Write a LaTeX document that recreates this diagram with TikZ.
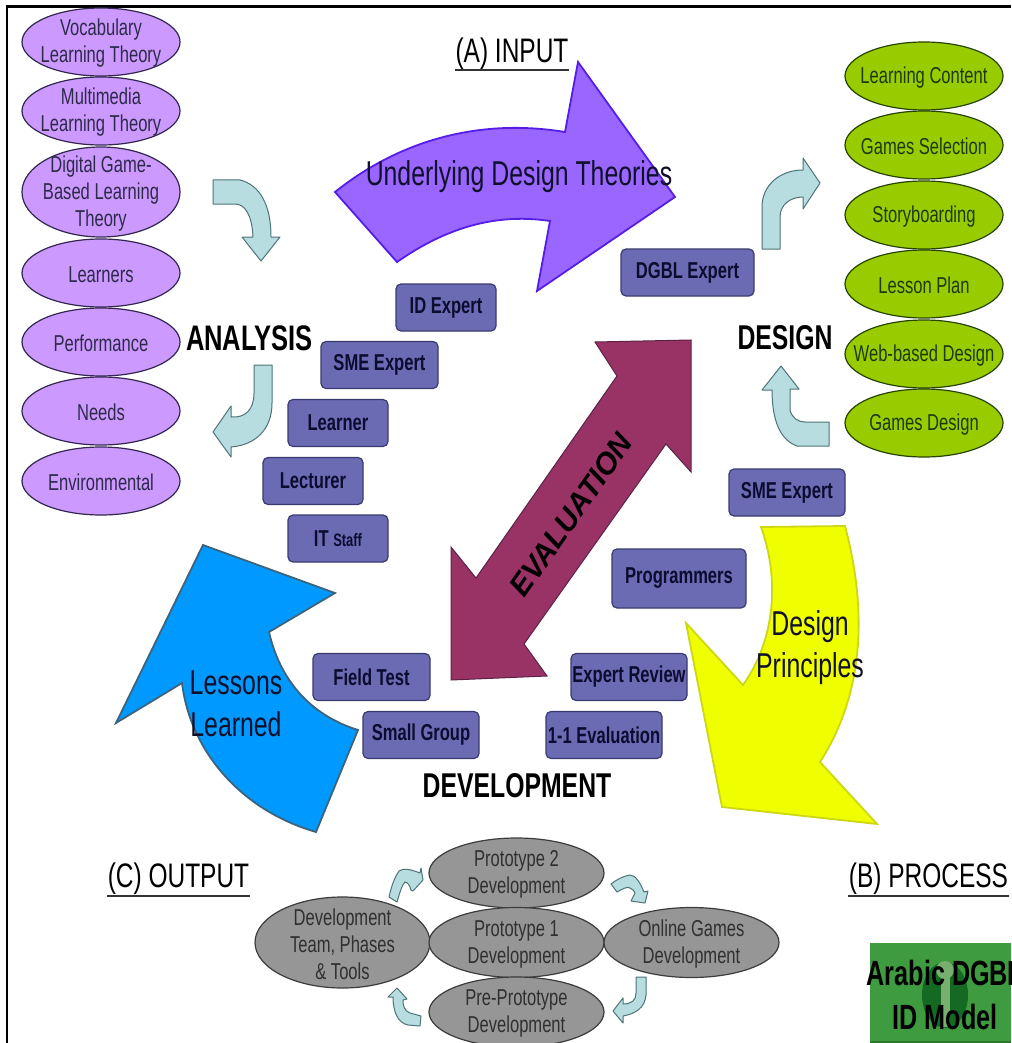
\documentclass[tikz,border=0pt]{standalone}
\usepackage{fontspec}
\setmainfont[FakeStretch=0.72]{Liberation Sans}
\newfontfamily\evalfont{Liberation Sans}
\usetikzlibrary{shapes.geometric}
\definecolor{pur}{HTML}{CC99FF}
\definecolor{purd}{HTML}{33264F}
\definecolor{purt}{HTML}{2E2A4A}
\definecolor{grn}{HTML}{99CC00}
\definecolor{grnd}{HTML}{264400}
\definecolor{grnt}{HTML}{1C3A10}
\definecolor{gry}{HTML}{969696}
\definecolor{gryd}{HTML}{3C3C3C}
\definecolor{gryt}{HTML}{303030}
\definecolor{bx}{HTML}{6B6BB3}
\definecolor{bxd}{HTML}{3A3A70}
\definecolor{bxt}{HTML}{0C0C30}
\definecolor{teal}{HTML}{B7DDE0}
\definecolor{teald}{HTML}{4F7478}
\definecolor{bigt}{HTML}{10102A}
\tikzset{
  ell/.style={ellipse,draw=#1,line width=1.2pt,inner sep=0pt,minimum width=158pt,minimum height=68pt},
  pe/.style={ell=purd,fill=pur},
  ge/.style={ell=grnd,fill=grn},
  ke/.style={ell=gryd,fill=gry,minimum width=175pt,minimum height=70pt},
  etext/.style={align=center,inner sep=0pt,yshift=-1.5pt,font=\fontsize{23}{27}\selectfont,text=#1},
  bbox/.style={rectangle,rounded corners=5pt,draw=bxd,line width=1.2pt,fill=bx,inner sep=0pt,
    minimum width=100pt,minimum height=47pt,text=bxt,font=\fontsize{23}{26}\selectfont\bfseries},
  tarrow/.style={draw=teald,line width=1pt,fill=teal,line join=round},
  head/.style={font=\fontsize{34.4}{36}\selectfont\bfseries,inner sep=0pt,text=black},
  ulabel/.style={font=\fontsize{34}{36}\selectfont,inner sep=0pt,text=black},
  big/.style={font=\fontsize{34.5}{42}\selectfont,align=center,inner sep=0pt,text=bigt},
  uline/.style={draw=black!80,line width=1.2pt}
}
\begin{document}
\begin{tikzpicture}[x=1pt,y=-1pt]
\useasboundingbox (0,0) rectangle (1011,1043);
\fill[white] (0,0) rectangle (1011,1043);
\draw[black,line width=2.4pt] (7,1043) -- (7,6.5) -- (1011,6.5);

% large arrows
\draw[draw={rgb,255:red,85;green,30;blue,230},line width=1.8pt,fill={rgb,255:red,153;green,102;blue,255}]
  (335,192) .. controls (400,140) and (480,118) .. (565,132) -- (578,62) -- (675,197) -- (537,291)
  -- (550,221) .. controls (490,212) and (440,232) .. (397,262) -- cycle;
\draw[draw={rgb,255:red,90;green,35;blue,70},line width=1pt,fill={rgb,255:red,153;green,51;blue,102}]
  (691,340) -- (595,342) -- (617,376) -- (476,578) -- (451,547) -- (451,680) -- (547,676)
  -- (524,644) -- (666,444) -- (691,472) -- cycle;
\draw[draw={rgb,255:red,60;green,100;blue,125},line width=1.8pt,fill={rgb,255:red,0;green,153;blue,255}]
  (203,545) -- (335,593) -- (269,632) .. controls (280,680) and (310,715) .. (358,730)
  -- (316,832) .. controls (240,810) and (190,750) .. (182,683) -- (116,723) -- cycle;
\draw[draw={rgb,255:red,205;green,215;blue,20},line width=1.8pt,fill={rgb,255:red,240;green,255;blue,0}]
  (761,527) -- (845,526) .. controls (870,620) and (860,700) .. (820,762) -- (877,824)
  -- (722,807) -- (686,623) -- (743,685) .. controls (775,640) and (780,580) .. (761,527) -- cycle;

% small teal arrows
\draw[tarrow] (213,180) -- (240,180) .. controls (260,185) and (271,205) .. (271,237) -- (280,237) -- (261,261) -- (242,237) -- (253,237)
  .. controls (252,215) and (245,204) .. (235,204) -- (213,204) -- cycle;
\draw[tarrow] (254,365) -- (272,365) -- (272,403) .. controls (272,430) and (255,445) .. (231,447) -- (231,457) -- (213,432) -- (231,406) -- (231,417)
  .. controls (245,418) and (254,410) .. (254,393) -- cycle;
\draw[tarrow] (762,249) -- (780,249) -- (780,217) .. controls (780,205) and (790,197) .. (803,197) -- (803,209) -- (820,183) -- (803,158) -- (803,170)
  .. controls (780,170) and (762,185) .. (762,207) -- cycle;
\draw[tarrow] (829,422) -- (829,446) -- (797,446) .. controls (780,440) and (772,420) .. (772,390) -- (762,390) -- (781,366) -- (799,389) -- (790,389)
  -- (790,410) .. controls (792,418) and (798,422) .. (805,422) -- cycle;
\draw[tarrow] (389,897) -- (397,902) .. controls (400,892) and (402,885) .. (405,882) .. controls (407,882) and (410,885) .. (411,890) -- (413,891) -- (423,880) -- (421,868) -- (420,873)
  .. controls (410,869) and (403,868) .. (399,871) .. controls (394,878) and (391,888) .. (389,897) -- cycle;
\draw[tarrow] (397,988) -- (388,997) -- (393,997) .. controls (393,1012) and (398,1023) .. (408,1025) -- (420,1026) -- (421,1016) -- (410,1013)
  .. controls (404,1011) and (403,1005) .. (403,1000) -- (407,999) -- cycle;
\draw[tarrow] (611,884) -- (617,892) .. controls (622,889) and (628,886) .. (630,888) .. controls (633,889) and (634,891) .. (635,893) -- (631,901) -- (645,903) -- (648,891) -- (644,892)
  .. controls (640,882) and (635,875) .. (630,875) .. controls (623,876) and (616,880) .. (611,884) -- cycle;
\draw[tarrow] (636,977) -- (646,977) -- (646,995) .. controls (645,1008) and (635,1014) .. (623,1016) -- (623,1023) -- (613,1011) -- (623,998) -- (623,1004)
  .. controls (632,1004) and (636,1000) .. (636,993) -- cycle;

% purple ellipses
\node[pe,label={[etext=purt]center:Vocabulary\\Learning Theory}] (e1) at (101,42) {};
\node[pe,label={[etext=purt]center:Multimedia\\Learning Theory}] (e2) at (101,111) {};
\node[pe,minimum height=90pt,label={[etext=purt]center:Digital Game-\\Based Learning\\Theory}] (e3) at (101,192) {};
\node[pe,label={[etext=purt]center:Learners}] (e4) at (101,273) {};
\node[pe,label={[etext=purt]center:Performance}] (e5) at (101,342) {};
\node[pe,label={[etext=purt]center:Needs}] (e6) at (101,411) {};
\node[pe,label={[etext=purt]center:Environmental}] (e7) at (101,481) {};

% green ellipses
\node[ge,label={[etext=grnt]center:Learning Content}] (g1) at (924,76) {};
\node[ge,label={[etext=grnt]center:Games Selection}] (g2) at (924,145) {};
\node[ge,label={[etext=grnt]center:Storyboarding}] (g3) at (924,215) {};
\node[ge,label={[etext=grnt]center:Lesson Plan}] (g4) at (924,284) {};
\node[ge,label={[etext=grnt]center:Web-based Design}] (g5) at (924,354) {};
\node[ge,label={[etext=grnt]center:Games Design}] (g6) at (924,423) {};

% grey ellipses
\node[ke,minimum height=91pt,label={[etext=gryt]center:Development\\Team, Phases\\\& Tools}] (k1) at (342.5,942.5) {};
\node[ke,label={[etext=gryt]center:Prototype 2\\Development}] (k2) at (516.5,873) {};
\node[ke,label={[etext=gryt]center:Prototype 1\\Development}] (k3) at (516.5,942.5) {};
\node[ke,label={[etext=gryt]center:Pre-Prototype\\Development}] (k4) at (516.5,1012) {};
\node[ke,label={[etext=gryt]center:Online Games\\Development}] (k5) at (691.5,942.5) {};

% role boxes
\node[bbox] (b1) at (446,307.5) {ID Expert};
\node[bbox,minimum width=117pt] (b2) at (379.5,365) {SME Expert};
\node[bbox] (b3) at (338,423) {\raisebox{-4pt}{Learner}};
\node[bbox] (b4) at (313,481) {Lecturer};
\node[bbox] (b5) at (338,538.5) {IT {\fontsize{18}{20}\selectfont Staff}};
\node[bbox,minimum width=133pt] (b6) at (687.5,272.5) {DGBL Expert};
\node[bbox,minimum width=116pt] (b7) at (787,492.5) {SME Expert};
\node[bbox,minimum width=134pt,minimum height=59pt] (b8) at (679,578.5) {Programmers};
\node[bbox,minimum width=116pt] (b9) at (629,677) {Expert Review};
\node[bbox,minimum width=116pt] (b10) at (604,735) {1-1 Evaluation};
\node[bbox,minimum width=117pt] (b11) at (371.5,677) {Field Test};
\node[bbox,minimum width=116pt] (b12) at (421,735) {Small Group};

% phase titles
\node[head,font=\fontsize{35.5}{36}\selectfont\bfseries] (analysis) at (249.5,338) {ANALYSIS};
\node[head] (design) at (785,338) {DESIGN};
\node[head] (development) at (517,786) {DEVELOPMENT};

% section labels
\node[ulabel] (input) at (512,54) {(A) INPUT};
\node[ulabel] (output) at (178.5,879) {(C) OUTPUT};
\node[ulabel] (process) at (928.5,879) {(B) PROCESS};
\draw[uline] (455,70) -- (569,70);
\draw[uline] (107,896) -- (250,896);
\draw[uline] (848,896) -- (1009,896);

% arrow captions
\node[big] (theories) at (519,177) {Underlying Design Theories};
\node[big] (lessons) at (236,704) {Lessons\\Learned};
\node[big] (principles) at (810,648) {Design\\Principles};
\node[inner sep=0pt,rotate=55,text=black,font=\fontsize{30}{32}\selectfont\evalfont\bfseries\itshape] (evaluation) at (571,515) {EVALUATION};

% model badge
\fill[fill={rgb,255:red,63;green,155;blue,63}] (870,943) rectangle (1011,1043);
\draw[line width=1.5pt,draw={rgb,255:red,45;green,120;blue,45}] (870,1042) -- (1011,1042);
\fill[fill={rgb,255:red,20;green,105;blue,35}] (945,995) ellipse (23pt and 33pt);
\fill[fill={rgb,255:red,120;green,175;blue,110}] (941,968) rectangle (950,1027);
\fill[fill={rgb,255:red,120;green,175;blue,110}] (945,970) circle (9pt);
\node[align=center,inner sep=0pt,text=black,font=\fontsize{35}{44}\selectfont\bfseries] (badge) at (945,995) {Arabic DGBL\\ID Model};
\end{tikzpicture}
\end{document}
